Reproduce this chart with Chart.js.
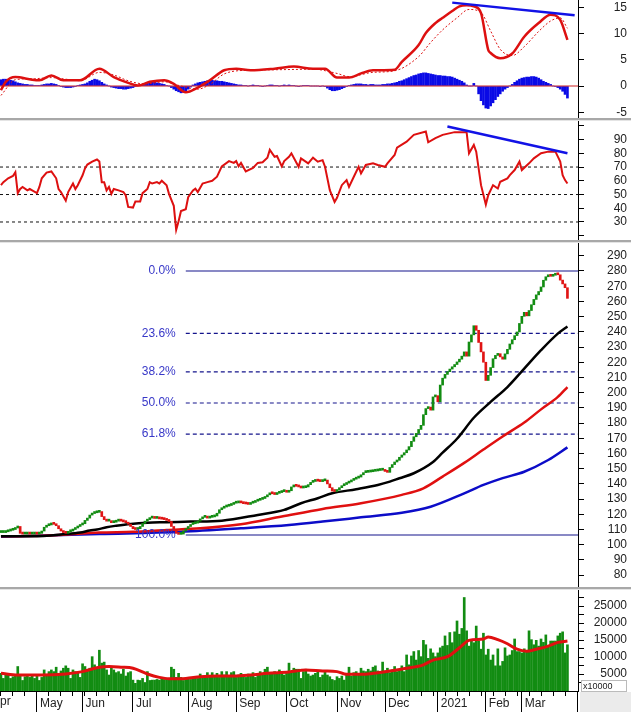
<!DOCTYPE html>
<html>
<head>
<meta charset="utf-8">
<script src="https://cdn.jsdelivr.net/npm/chart.js@4/dist/chart.umd.min.js"></script>
<style>
  body { margin: 0; background: #fff; }
  #wrap { position: relative; width: 631px; height: 712px; overflow: hidden; }
  .pane { position: absolute; left: 0; width: 631px; }
  .sep { position: absolute; left: 0; width: 631px; height: 3px; background: #a8a8a8; border-bottom: 1px solid #e4e4e4; box-sizing: border-box; }
</style>
</head>
<body>
<div id="wrap">
  <div class="pane" style="top:0;height:118px"><canvas id="macd"></canvas></div>
  <div class="sep" style="top:118px"></div>
  <div class="pane" style="top:121px;height:119px"><canvas id="rsi"></canvas></div>
  <div class="sep" style="top:240px"></div>
  <div class="pane" style="top:243px;height:344px"><canvas id="price"></canvas></div>
  <div class="sep" style="top:587px"></div>
  <div class="pane" style="top:590px;height:122px"><canvas id="vol"></canvas></div>
</div>
<script>
// ---- data (one bar per trading day, Apr 2020 .. Mar 2021) ----
const monthStarts = [15, 34, 55, 78, 98, 119, 140, 160, 182, 202, 217, 240];
const monthNames = ["May", "Jun", "Jul", "Aug", "Sep", "Oct", "Nov", "Dec", "2021", "Feb", "Mar", "Apr"];

const closes = [
  108,108,108.5,109,109.5,110,111,112,107.5,107,
  107,107.5,107,107,107.5,107,107.5,109,111.5,112.5,
  113,113.5,113.4,112.5,110.5,109,108,107.5,108.5,109,
  110,111,112,113,113.8,116,117.5,119.5,120.5,121,
  121.3,121.8,118.5,116.5,115.5,115.5,114.5,114.8,115.5,116,
  115.5,115,114.5,113.5,112,110.5,110,110.5,112,114,
  115.5,116.5,117.5,117.5,117.3,117.5,117,116.8,116.5,116,
  115.3,112,109.5,107.5,106.8,107,109,110.5,112,113.3,
  113.8,114.2,115.5,117,118,118,117.5,118,118.3,118.9,
  120.7,123,124,124.8,125.3,125.8,126.5,127.3,127.5,127.6,
  127.5,127,126.8,126.5,127.3,127.8,128.6,129.2,129.8,130.4,
  131.5,132.8,133.8,133.5,133,133.8,134.3,134.9,135,134.5,
  135.5,138,138.6,138.4,138,137.3,137.5,138,139.5,141,
  141.6,142.1,141.8,141.5,142,142.5,140,137.5,135.3,135,
  136,137.5,138.8,139.6,140.5,141.3,142.3,143.1,143.8,144.5,
  146,147.4,147.6,147.8,148,148.3,148.5,148.8,149,149.1,
  148.2,147.6,150.8,152.7,154.4,155.5,157.5,159,160.5,162.3,
  164.5,168,171,173.2,175.8,178.5,185.5,189.5,190.5,188.5,
  197.2,198,194,205,209.5,212,213.8,215.5,217,218.5,
  220.2,222,224,226.8,224,233.3,238,244,241,233,
  226.8,220,208,211.4,216.5,222.3,224.5,225.6,223.5,222,
  225.5,228.5,232,234.8,237.5,239.9,245.5,250.2,252.8,250.5,
  254,257.8,261.3,264.3,266.5,269.5,273.9,276.2,277,276.5,
  277.2,278,277.5,274,271.5,269,262
];

const volumes = [
  5200,3700,4800,5200,3700,4200,4500,7200,4700,3100,
  4200,4700,4000,4400,3700,4700,3100,4000,6200,4700,
  5700,6200,5700,7000,5200,5900,6700,7400,6700,3700,
  6200,5700,5200,4000,8000,7200,6200,6700,10100,7700,
  6700,12000,8200,8500,6200,4700,6700,6200,5400,5700,
  5000,6400,4400,5400,5700,3200,2250,3200,3100,3700,
  2500,5700,3100,3200,3200,3400,3200,4000,3400,3700,
  3400,7000,6400,4000,5200,4000,3100,3700,4000,3400,
  4000,4000,3700,5000,4000,4400,5400,4400,5400,4400,
  5200,4000,5700,4700,5700,4400,5400,5700,4000,4700,
  5200,4400,4000,5000,4400,5400,4000,5000,5700,5000,
  6400,7000,5400,5000,5700,5000,6200,5400,4700,5700,
  8200,5700,6700,6400,6400,3700,5700,6400,5000,4400,
  4700,5200,5700,4000,4700,5700,4700,4200,3400,3100,
  4200,3700,4400,3200,4700,7000,4400,5400,5700,5000,
  6700,5900,5700,6400,5900,7000,7400,5900,5000,8500,
  5900,6700,5400,6200,7200,5700,6200,7400,5700,10600,
  7700,10300,11600,9100,11900,10100,14900,13600,9600,12400,
  11200,10100,11200,12700,13200,16200,13400,17200,14200,17400,
  20600,16700,18400,27500,17700,13200,14700,14200,19100,14700,
  12300,17000,10600,12300,9100,10600,7400,12400,7400,8700,
  12700,10300,10600,11900,15300,11600,11600,11200,12400,11600,
  17700,15100,13600,14900,13200,15300,14300,16500,13200,14700,
  14700,14700,16200,17000,17400,11200,13600
];

const macdHist = [
  1.2,1.3,1.3,1.2,1.1,1.0,0.8, 0.6,0.5,0.4,0.3,0.3,0.2,
  0.2,0.1,0.1,0.1,0.2,0.3,0.4,0.4, 0.5,0.4,0.3,0.1,
  -0.1,-0.2,-0.3,-0.3,-0.3,-0.2,-0.1, 0.1,0.2,0.3,0.4,0.6,
  0.9,1.1,1.3,1.2,1.0, 0.7,0.4,0.2,0.0,
  -0.2,-0.3,-0.4,-0.5,-0.5,-0.6,-0.6,-0.5,-0.4,-0.3,
  -0.1,0.1,0.2,0.3, 0.4,0.5,0.6,0.7,0.7,0.6,0.5,0.4,0.3,0.1,0.0,
  -0.3,-0.6,-0.9,-1.1,-1.3,-1.2,-1.0,-0.6, -0.2,0.2,0.4,0.6,
  0.7,0.8,0.9,1.0,1.1,1.1,1.0,1.0,0.9,0.9,0.8,0.7,0.6,0.5,
  0.4,0.3,0.2,0.2,
  0.1,0.1,0.0,0.1,0.2,0.1,0.1,0.0,-0.1,0.0,0.1,0.2,0.2,0.1,0.1,
  0.0,0.1,0.2,0.1,0.2,0.1,0.1,0.0,-0.1,0.0,0.1,0.1,0.1,0.0,0.0,
  0.0,0.0,-0.1,0.0,-0.1,
  -0.4,-0.7,-0.9,-0.9,-0.8,-0.7,-0.5,-0.3,-0.1,
  0.1,0.2,0.3,0.4,0.4,0.4,0.3,0.3,
  0.2,0.3,0.3,0.2,0.2,0.2,0.3,0.3,0.4,0.4,0.5,
  0.6,0.7,0.9,1.0,1.2,1.4,1.6,1.8,2.0,2.1,2.3,2.4,
  2.5,2.5,2.4,2.3,2.2,2.1,
  2.0,2.0,1.9,1.9,1.8,1.8,1.7,1.5,1.3,
  1.1,0.9,0.6,0.2,0.0, 0.0,0.5,0.0,
  -1.5,-2.8,-3.6,-4.2,-4.3, -3.8,-3.2,-2.6,-2.0,-1.5,-1.0,
  -0.6,-0.3,0.0,0.3,
  0.7,1.0,1.3,1.5,1.6,1.7,1.7,1.8,1.8,1.7,1.5,1.2,
  0.9,0.7,0.5,0.3, 0.0,-0.1,-0.3,-0.6,-1.0,-1.6,-2.3
];

// smooth lines, read at selected bars
const maBlackBars = [0,13,27,33,37,40,44,48,54,61,69,79,92,107,118,125,132,138,148,157,162,166,172,180,184,190,197,204,211,218,225,232,236];
const maBlackVals = [105.5,105.5,107,108,109.3,110,111.5,112.5,113.7,114.5,114.8,115.2,115.8,119.6,122.9,127.3,130.6,133.8,136.5,139.3,141.5,143.7,147,154.4,160.5,169.7,183.5,193.9,203.7,215.8,227.9,238.8,243.5];
const maRedBars = [0,20,41,55,69,83,100,117,134,150,167,176,184,193,201,209,218,225,232,236];
const maRedVals = [105.5,106,108,108.5,109.7,110.8,113.5,118.5,123.5,127.3,132.8,137.1,144.8,153.8,162.6,171.2,180.3,189,197.2,203.7];
const maBlueBars = [0,41,75,100,120,134,150,167,179,193,201,209,218,228,236];
const maBlueVals = [105.2,107,108.5,110.8,113,115.2,118,121,125,133.8,139.3,143.8,148,155.7,164];

const macdBars = [0,2,6,13,16,21,26,33,41,47,53,57,62,68,72,77,82,87,93,98,104,114,122,130,135,140,145,150,155,164,167,174,177,181,184,188,191,194,197,200,203,204,208,213,218,224,229,233,236];
const macdVals = [-0.8,0.8,1.7,1.2,1.1,2.0,1.1,1.1,3.3,1.7,0.6,0.1,0.8,1.1,0.4,-1.2,-0.3,1.1,3.0,3.3,3.0,3.3,3.7,3.3,3.3,1.6,1.6,2.4,3.0,3.1,4.6,7.8,10.1,12.0,13.0,14.3,15.2,15.4,15.2,13.9,6.9,6.3,5.3,6.2,9.4,12.0,13.6,12.6,8.8];
const signalBars = [0,6,14,21,27,33,41,47,53,60,68,75,82,87,93,102,114,130,140,145,155,164,174,179,184,190,195,200,204,208,213,218,224,229,233,236];
const signalVals = [-1.8,1.2,1.4,1.6,1.3,1.0,2.6,2.1,1.0,0.4,0.8,0,-0.6,0.3,2.3,3.0,3.1,3.2,2.4,1.8,2.6,2.9,5.6,8.3,10.7,13,14.6,14.0,10.5,7,5.8,7.5,10.4,12.4,13.0,11.0];
const macdTrendBars = [188, 239];
const macdTrendVals = [15.9, 13.5];

const rsiBars = [0,1,3,5,6,7,8,9,11,12,13,15,16,17,19,21,23,24,25,27,28,30,31,32,34,35,36,38,40,41,42,43,44,45,46,47,49,51,52,53,55,56,58,59,61,62,63,65,66,67,69,70,72,73,74,75,77,78,80,81,82,84,86,88,90,92,95,97,98,99,100,102,105,107,109,111,112,114,115,117,118,120,121,124,125,128,130,132,134,135,137,139,140,142,144,145,147,149,150,152,155,157,160,161,164,165,169,172,177,178,181,184,189,192,194,195,197,198,200,202,203,205,207,208,211,212,214,216,217,220,222,225,228,231,233,234,235,236];
const rsiVals = [56.8,59,61.8,63.5,66.3,51,54,55.5,53,54,53,51,55.5,61.8,66,66.8,61.8,54,51.8,45.5,51.8,58,54,56.8,64,69,71.8,74,75.5,74,59,59,53,55.5,50.5,54,53,51.8,49.3,41,40.5,45,45,51,54,59,58,59,58,60,56.8,50.5,41.8,24.3,30.5,38,39.3,48,53,54.3,51.8,58,59,60,63,70.5,74.3,73,74.3,70.5,73,66.8,69.3,73,73.5,76.8,82.5,77.5,78,70.5,74.3,77.5,80,70.2,76.3,72.7,76.8,73.9,75,70.2,53.2,44.6,47.6,56.8,60.5,55.6,62.9,70.2,65.4,71.5,72.7,71.5,70.2,72.7,78.8,84.1,88.5,93.4,95.9,88,91,93.4,95.4,95.4,95.4,80,86.1,81.2,56.8,42.7,49.5,56.8,54.4,59.3,61.7,64.1,67.8,73.9,67.8,72.7,76.3,80,81.2,81.2,73.9,64.1,60.5,58];
const rsiLevels = [30, 50, 70];
const rsiTrendBars = [186, 236];
const rsiTrendVals = [99.5, 80];

const volMaBars = [0,7,17,27,34,41,45,50,55,61,66,70,77,83,90,97,104,111,120,127,134,140,144,151,157,162,169,176,180,186,191,195,201,203,207,211,215,219,223,228,232,236];
const volMaVals = [5200,4700,4700,5000,5700,7000,7200,7000,6700,5000,4000,3600,3700,4200,4400,4400,4700,5200,5600,6200,5900,5700,4900,4900,5400,5900,6700,7700,9100,10100,12700,14900,15300,15900,15100,13900,12300,11700,12300,13200,14300,14700];

const fibHigh = 280;
const fibLow = 106.4;
const fibStartBar = 77;
const fibRatios = [0, 23.6, 38.2, 50, 61.8, 100];

// ---- helpers ----
const GREEN = "#128c12";
const RED = "#e01414";
const FONT = { family: "'Liberation Sans', Arial, sans-serif", size: 12 };
const xMin = -0.4, xMax = 240.4;

const pairs = (bars, vals) => bars.map((b, k) => ({ x: b, y: vals[k] }));
const hline = (v, from) => [{ x: from, y: v }, { x: xMax, y: v }];
const fibLevel = r => fibHigh - (fibHigh - fibLow) * r / 100;
const range = (a, b, step) => { const out = []; for (let v = a; v <= b; v += step) out.push(v); return out; };
const noPad = s => { s.paddingTop = 0; s.paddingBottom = 0; s.paddingLeft = 0; s.paddingRight = 0; };

const hiddenX = () => ({ type: "linear", min: xMin, max: xMax, offset: false, display: false });

function rightAxis(min, max, tickVals, fmt) {
    return {
        position: "right",
        min: min,
        max: max,
        afterFit: s => { s.width = 49; noPad(s); },
        afterBuildTicks: s => { s.ticks = tickVals.map(v => ({ value: v })); },
        border: { display: true, color: "#000", width: 1 },
        grid: { drawOnChartArea: false, tickLength: 6, color: "#000" },
        ticks: { crossAlign: "far", padding: 4, color: "#222", font: FONT, autoSkip: false, callback: fmt || (v => v) },
    };
}

const lineSet = (data, color, width, extra) => Object.assign({
    type: "line", data, borderColor: color, borderWidth: width, pointRadius: 0,
    fill: false, cubicInterpolationMode: "monotone",
}, extra || {});

const baseOptions = (scales) => ({
    responsive: true,
    maintainAspectRatio: false,
    animation: false,
    events: [],
    layout: { autoPadding: false, padding: { right: 4 } },
    plugins: { legend: { display: false }, tooltip: { enabled: false } },
    scales,
});

// ---- MACD ----
new Chart(document.getElementById("macd"), {
    type: "bar",
    data: {
        datasets: [
            lineSet(pairs(macdTrendBars, macdTrendVals), "#1212e6", 2.5, { cubicInterpolationMode: "default" }),
            lineSet(pairs(macdBars, macdVals), "#dd1010", 2.5),
            lineSet(pairs(signalBars, signalVals), "#dd1010", 1, { borderDash: [2, 2] }),
            lineSet(hline(0, xMin), "#cc2020", 1),
            {
                type: "bar",
                data: macdHist.map((v, i) => ({ x: i, y: v })),
                backgroundColor: "#0a0ae6",
                barThickness: 2,
            },
        ],
    },
    options: baseOptions({ x: hiddenX(), y: rightAxis(-6.1, 16.4, [-5, 0, 5, 10, 15]) }),
});

// ---- RSI ----
new Chart(document.getElementById("rsi"), {
    type: "line",
    data: {
        datasets: [
            lineSet(pairs(rsiTrendBars, rsiTrendVals), "#1212e6", 2.5, { cubicInterpolationMode: "default" }),
            lineSet(pairs(rsiBars, rsiVals), "#dd1010", 2, { cubicInterpolationMode: "default" }),
            ...rsiLevels.map(l => lineSet(hline(l, xMin), "#111", 1, { borderDash: [3, 3] })),
        ],
    },
    options: baseOptions({
        x: hiddenX(),
        y: rightAxis(16.9, 103.5, range(20, 100, 10), v => (v === 20 || v === 100 ? "" : v)),
    }),
});

// ---- Price ----
const fibLabels = {
    id: "fibLabels",
    afterDatasetsDraw(chart) {
        const { ctx, scales: { x, y } } = chart;
        ctx.save();
        ctx.font = "12px 'Liberation Sans', Arial, sans-serif";
        ctx.fillStyle = "#3838c8";
        ctx.textAlign = "right";
        ctx.textBaseline = "middle";
        fibRatios.forEach(r => {
            ctx.fillText(r.toFixed(1) + "%", x.getPixelForValue(fibStartBar) - 10, y.getPixelForValue(fibLevel(r)));
        });
        ctx.restore();
    },
};

const isDown = ctx => ctx.raw && ctx.raw.y[1] < ctx.raw.y[0];

new Chart(document.getElementById("price"), {
    type: "bar",
    data: {
        datasets: [
            {
                type: "bar",
                data: closes.map((c, i) => ({ x: i, y: [i ? closes[i - 1] : c, c] })),
                backgroundColor: ctx => (isDown(ctx) ? RED : GREEN),
                barThickness: 2,
                minBarLength: 2,
            },
            lineSet(pairs(maBlackBars, maBlackVals), "#000", 2.5),
            lineSet(pairs(maRedBars, maRedVals), "#e01010", 2.5),
            lineSet(pairs(maBlueBars, maBlueVals), "#0c0cc8", 2.5),
            ...fibRatios.map(r => lineSet(hline(fibLevel(r), fibStartBar), "#14148c", 1.2,
                { borderDash: r === 0 || r === 100 ? [] : [4, 3] })),
        ],
    },
    options: baseOptions({ x: hiddenX(), y: rightAxis(72.2, 298.4, range(80, 290, 10)) }),
    plugins: [fibLabels],
});

// ---- Volume ----
const volExtras = {
    id: "volExtras",
    afterDraw(chart) {
        const { ctx, chartArea: a, scales: { x } } = chart;
        ctx.save();
        ctx.font = "12px 'Liberation Sans', Arial, sans-serif";
        ctx.fillStyle = "#222";
        ctx.textBaseline = "top";
        ctx.fillText("Apr", x.getPixelForValue(-5) + 3, a.bottom + 5);
        ctx.fillStyle = "#ebebeb";
        ctx.fillRect(a.right + 2, a.bottom + 1, chart.width - a.right, chart.height - a.bottom);
        ctx.fillStyle = "#fff";
        ctx.fillRect(a.right + 3, a.bottom - 11, 46, 12);
        ctx.strokeStyle = "#777";
        ctx.setLineDash([1, 1]);
        ctx.strokeRect(a.right + 3.5, a.bottom - 10.5, 45, 11);
        ctx.font = "9px 'Liberation Sans', Arial, sans-serif";
        ctx.fillStyle = "#222";
        ctx.textBaseline = "middle";
        ctx.fillText("x10000", a.right + 5, a.bottom - 4.5);
        ctx.restore();
    },
};

new Chart(document.getElementById("vol"), {
    type: "bar",
    data: {
        datasets: [
            lineSet(pairs(volMaBars, volMaVals), "#e01010", 3),
            {
                type: "bar",
                data: volumes.map((v, i) => ({ x: i, y: v })),
                backgroundColor: GREEN,
                barThickness: 2,
            },
        ],
    },
    options: baseOptions({
        x: {
            type: "linear", min: xMin, max: xMax, offset: false, position: "bottom", weight: 1,
            afterFit: s => { s.height = 21; noPad(s); },
            afterBuildTicks: s => { s.ticks = monthStarts.map(v => ({ value: v })); },
            border: { display: true, color: "#000" },
            grid: { drawOnChartArea: false, offset: false, tickLength: 21, color: "#000" },
            ticks: {
                align: "start", labelOffset: 3, padding: -16, maxRotation: 0, autoSkip: false,
                color: "#222", font: FONT,
                callback: v => monthNames[monthStarts.indexOf(v)],
            },
        },
        xw: {
            type: "linear", min: xMin, max: xMax, offset: false, position: "bottom", weight: 0,
            afterFit: s => { s.height = 0; noPad(s); },
            afterBuildTicks: s => { s.ticks = range(0, 236, 5).map(v => ({ value: v })); },
            border: { display: false },
            grid: { drawOnChartArea: false, offset: false, tickLength: 5, color: "#000" },
            ticks: { display: false },
        },
        y: rightAxis(0, 29706, range(2500, 27500, 2500), v => (v % 5000 === 0 ? v : "")),
    }),
    plugins: [volExtras],
});
</script>
</body>
</html>
